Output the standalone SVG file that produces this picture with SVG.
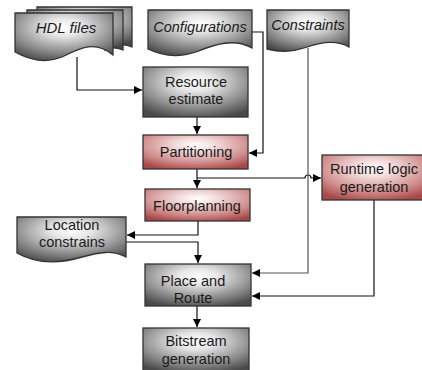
<svg xmlns="http://www.w3.org/2000/svg" width="422" height="370" viewBox="0 0 422 370">
<defs>
<radialGradient id="gg" cx="0.5" cy="0.3" r="0.75">
<stop offset="0" stop-color="#ffffff"/>
<stop offset="0.25" stop-color="#e6e6e6"/>
<stop offset="0.7" stop-color="#8a8a8a"/>
<stop offset="1" stop-color="#4a4a4a"/>
</radialGradient>
<radialGradient id="rg" cx="0.5" cy="0.3" r="0.75">
<stop offset="0" stop-color="#ffffff"/>
<stop offset="0.25" stop-color="#f3dcdc"/>
<stop offset="0.7" stop-color="#cf8a8a"/>
<stop offset="1" stop-color="#a84848"/>
</radialGradient>
<marker id="ah" viewBox="0 0 10 10" refX="10" refY="5" markerWidth="8" markerHeight="8" markerUnits="userSpaceOnUse" orient="auto">
<path d="M0,0 L10,5 L0,10 z" fill="#000"/>
</marker>
</defs>
<style>
.g{fill:url(#gg);stroke:#333;stroke-width:1.3}
.r{fill:url(#rg);stroke:#333;stroke-width:1.3}
.t{font-family:"Liberation Sans",Arial,sans-serif;font-size:14.5px;fill:#1a1a1a;text-anchor:middle}
.i{font-style:italic}
.c{fill:none;stroke:#111;stroke-width:1.2}
.cg{fill:none;stroke:#555;stroke-width:1.2}
</style>

<g id="connectors">
<path class="c" d="M77,57 V90 H142" marker-end="url(#ah)"/>
<path class="c" d="M252,32 H263 V153 H249" marker-end="url(#ah)"/>
<path class="c" d="M197,117 V134" marker-end="url(#ah)"/>
<path class="c" d="M197,169 V188" marker-end="url(#ah)"/>
<path class="c" d="M197,178 H305 A3,3 0 0 1 311,178 H321" marker-end="url(#ah)"/>
<path class="cg" d="M308,48 V273 H252" marker-end="url(#ah)"/>
<path class="c" d="M198,221 V235 H127" marker-end="url(#ah)"/>
<path class="c" d="M126,242 H198 V263" marker-end="url(#ah)"/>
<path class="c" d="M374,200 V296 H252" marker-end="url(#ah)"/>
<path class="c" d="M197,306 V327" marker-end="url(#ah)"/>
</g>

<g id="hdl-files">
<path class="g" d="M37,7 H132 V47 C125,44 120,44 115,47 V14 H37 Z"/>
<path class="g" d="M27,10 H123 V50 C116,47 110,47 105,50 V17 H27 Z"/>
<path class="g" d="M15,13 H113 V55 C95,40 80,48 62,57 C45,64 30,60 15,52 Z"/>
<text class="t i" x="66" y="33" style="font-size:15px">HDL files</text>
</g>

<g id="configurations">
<path class="g" d="M148,10 H252 V48 C235,38 215,44 196,52 C178,58 162,56 148,49 Z"/>
<text class="t i" x="200" y="32">Configurations</text>
</g>

<g id="constraints">
<path class="g" d="M267,10 H349 V47 C336,39 320,42 304,48 C290,53 278,52 267,49 Z"/>
<text class="t i" x="308" y="30">Constraints</text>
</g>

<g id="resource-estimate">
<rect class="g" x="143" y="67" width="105" height="50"/>
<text class="t" x="196" y="87">Resource</text>
<text class="t" x="196" y="104">estimate</text>
</g>

<g id="partitioning">
<rect class="r" x="143" y="135" width="105" height="34"/>
<text class="t" x="196" y="157">Partitioning</text>
</g>

<g id="floorplanning">
<rect class="r" x="145" y="189" width="105" height="32"/>
<text class="t" x="197" y="211">Floorplanning</text>
</g>

<g id="runtime-logic">
<rect class="r" x="322" y="155" width="104" height="45"/>
<text class="t" x="374" y="174">Runtime logic</text>
<text class="t" x="374" y="192">generation</text>
</g>

<g id="location-constrains">
<path class="g" d="M17,217 H126 V257 C112,250 100,252 82,257 C62,263 38,265 17,253 Z"/>
<text class="t" x="72" y="230">Location</text>
<text class="t" x="72" y="247">constrains</text>
</g>

<g id="place-route">
<rect class="g" x="145" y="264" width="106" height="42"/>
<text class="t" x="193" y="286">Place and</text>
<text class="t" x="193" y="303">Route</text>
</g>

<g id="bitstream">
<rect class="g" x="143" y="328" width="106" height="44"/>
<text class="t" x="196" y="346">Bitstream</text>
<text class="t" x="196" y="364">generation</text>
</g>
</svg>
